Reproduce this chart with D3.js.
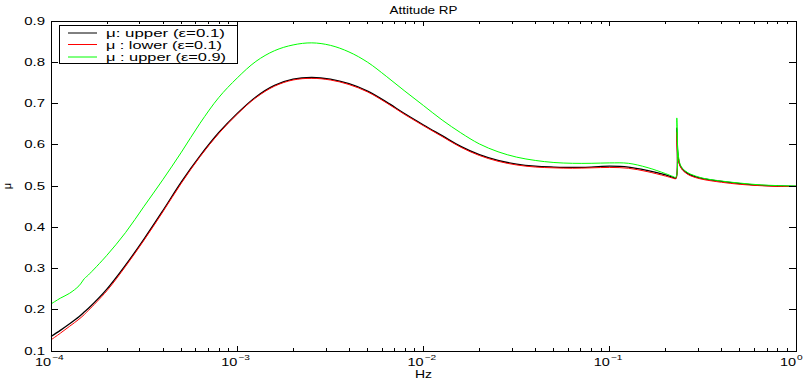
<!DOCTYPE html>
<html><head><meta charset="utf-8">
<script src="https://cdn.jsdelivr.net/npm/d3@7"></script>
<style>body{margin:0;background:#fff}svg{display:block}text{font-family:"Liberation Sans",Arial,sans-serif;fill:#000}</style>
</head><body><svg id="c" width="808" height="381"></svg>
<script>
const freqs = [1.000e-4,1.122e-4,1.259e-4,1.413e-4,1.514e-4,1.585e-4,1.995e-4,2.512e-4,3.162e-4,3.981e-4,
 5.012e-4,6.310e-4,7.943e-4,1.0e-3,1.259e-3,1.585e-3,1.995e-3,2.512e-3,3.162e-3,3.981e-3,
 5.012e-3,6.310e-3,7.943e-3,1.0e-2,1.259e-2,1.585e-2,1.995e-2,2.512e-2,3.162e-2,3.981e-2,
 5.012e-2,6.310e-2,7.943e-2,0.1,0.1259,0.1585,0.1995,0.2188,0.2265,0.2291,0.2312,0.2371,0.2455,
 0.2630,0.2818,0.3162,0.3981,0.5012,0.6310,0.7943,1.0];
const upper01 = [0.135,0.150,0.166,0.183,0.195,0.203,0.250,0.308,0.372,0.440,
 0.510,0.573,0.629,0.676,0.716,0.744,0.759,0.763,0.759,0.748,
 0.730,0.704,0.675,0.648,0.622,0.596,0.576,0.562,0.553,0.548,
 0.546,0.545,0.546,0.548,0.546,0.538,0.527,0.521,0.519,0.640,0.585,0.553,0.541,
 0.530,0.524,0.518,0.511,0.506,0.502,0.500,0.499];
const lower01 = [0.127,0.143,0.160,0.177,0.189,0.198,0.246,0.305,0.369,0.437,
 0.507,0.571,0.627,0.674,0.714,0.742,0.757,0.761,0.757,0.746,
 0.728,0.702,0.673,0.646,0.620,0.594,0.574,0.560,0.551,0.546,
 0.544,0.543,0.544,0.545,0.543,0.535,0.524,0.519,0.518,0.630,0.580,0.551,0.539,
 0.528,0.522,0.516,0.509,0.504,0.501,0.499,0.499];
const upper09 = [0.214,0.228,0.240,0.258,0.276,0.284,0.332,0.387,0.451,0.515,
 0.582,0.652,0.714,0.762,0.802,0.828,0.842,0.847,0.841,0.825,
 0.800,0.766,0.730,0.695,0.660,0.629,0.602,0.583,0.570,0.562,
 0.557,0.555,0.555,0.556,0.555,0.545,0.530,0.523,0.521,0.665,0.600,0.557,0.543,
 0.532,0.526,0.519,0.512,0.507,0.503,0.501,0.500];
const seriesNames = ["μ: upper  (ε=0.1)", "μ : lower (ε=0.1)", "μ : upper (ε=0.9)"];
const seriesColors = ["#000000", "#ff0000", "#00ff00"];
const yTicks = [0.1,0.2,0.3,0.4,0.5,0.6,0.7,0.8,0.9];
const xMajor = [1e-4,1e-3,1e-2,1e-1,1];
const xExp = ["−4","−3","−2","−1","0"];

const svg = d3.select("#c");
const L = 51, R = 796, T = 21, B = 351;
const x = d3.scaleLog().domain([1e-4, 1]).range([L, R]);
const y = d3.scaleLinear().domain([0.1, 0.9]).range([B, T]);

function txt(px, py, s, anchor, size, sx) {
  return svg.append("text").attr("transform", `translate(${px},${py}) scale(${sx},1)`)
    .attr("text-anchor", anchor).attr("font-size", size).text(s);
}

const minor = [];
xMajor.slice(0, -1).forEach(d => { for (let k = 2; k <= 9; k++) minor.push(d * k); });

const g = svg.append("g");
const line = d3.line().x(d => x(d[0])).y(d => y(d[1])).curve(d3.curveCatmullRom.alpha(0.5));
const widths = [1.3, 1, 1];
[upper01, lower01, upper09].forEach((vals, i) => {
  g.append("path").datum(freqs.map((f, j) => [f, vals[j]]))
    .attr("fill", "none").attr("stroke", seriesColors[i]).attr("stroke-width", widths[i])
    .attr("d", line);
});

const ax = svg.append("g").attr("stroke", "#000").attr("stroke-width", 1).attr("shape-rendering", "crispEdges");
ax.append("rect").attr("x", L).attr("y", T).attr("width", R - L).attr("height", B - T).attr("fill", "none");
yTicks.forEach(v => {
  ax.append("line").attr("x1", L).attr("x2", L + 7).attr("y1", y(v)).attr("y2", y(v));
  ax.append("line").attr("x1", R - 7).attr("x2", R).attr("y1", y(v)).attr("y2", y(v));
});
xMajor.forEach(v => {
  ax.append("line").attr("x1", x(v)).attr("x2", x(v)).attr("y1", B).attr("y2", B - 5);
  ax.append("line").attr("x1", x(v)).attr("x2", x(v)).attr("y1", T).attr("y2", T + 5);
});
minor.forEach(v => {
  ax.append("line").attr("x1", x(v)).attr("x2", x(v)).attr("y1", B).attr("y2", B - 3);
  ax.append("line").attr("x1", x(v)).attr("x2", x(v)).attr("y1", T).attr("y2", T + 3);
});

yTicks.forEach(v => { txt(45, y(v) + 3.6, v.toFixed(1), "end", 10, 1.5); });
xMajor.forEach((v, i) => {
  txt(x(v), 365.5, "10", "end", 10, 1.45);
  txt(x(v) + 1, 360, xExp[i], "start", 7, 1.45);
});

svg.append("text").attr("x", (L + R) / 2).attr("y", 14).attr("text-anchor", "middle")
  .attr("font-size", 10).attr("textLength", 68).attr("lengthAdjust", "spacingAndGlyphs").text("Attitude RP");
txt((L + R) / 2, 378, "Hz", "middle", 10, 1.4);
svg.append("text").attr("transform", `translate(11,${(T + B) / 2}) rotate(-90)`).attr("text-anchor", "middle").attr("font-size", 11).text("μ");

const lg = svg.append("g");
lg.append("rect").attr("x", 59.5).attr("y", 25.5).attr("width", 178).attr("height", 38)
  .attr("fill", "#fff").attr("stroke", "#000").attr("stroke-width", 1);
const rows = [33, 44.5, 57];
const legW = [119, 116, 120];
seriesNames.forEach((n, i) => {
  lg.append("line").attr("x1", 68).attr("x2", 97).attr("y1", rows[i]).attr("y2", rows[i])
    .attr("stroke", seriesColors[i]).attr("stroke-width", 1);
  lg.append("text").attr("x", 106).attr("y", rows[i] + 4).attr("font-size", 11)
    .attr("textLength", legW[i]).attr("lengthAdjust", "spacingAndGlyphs").text(n);
});
</script></body></html>
